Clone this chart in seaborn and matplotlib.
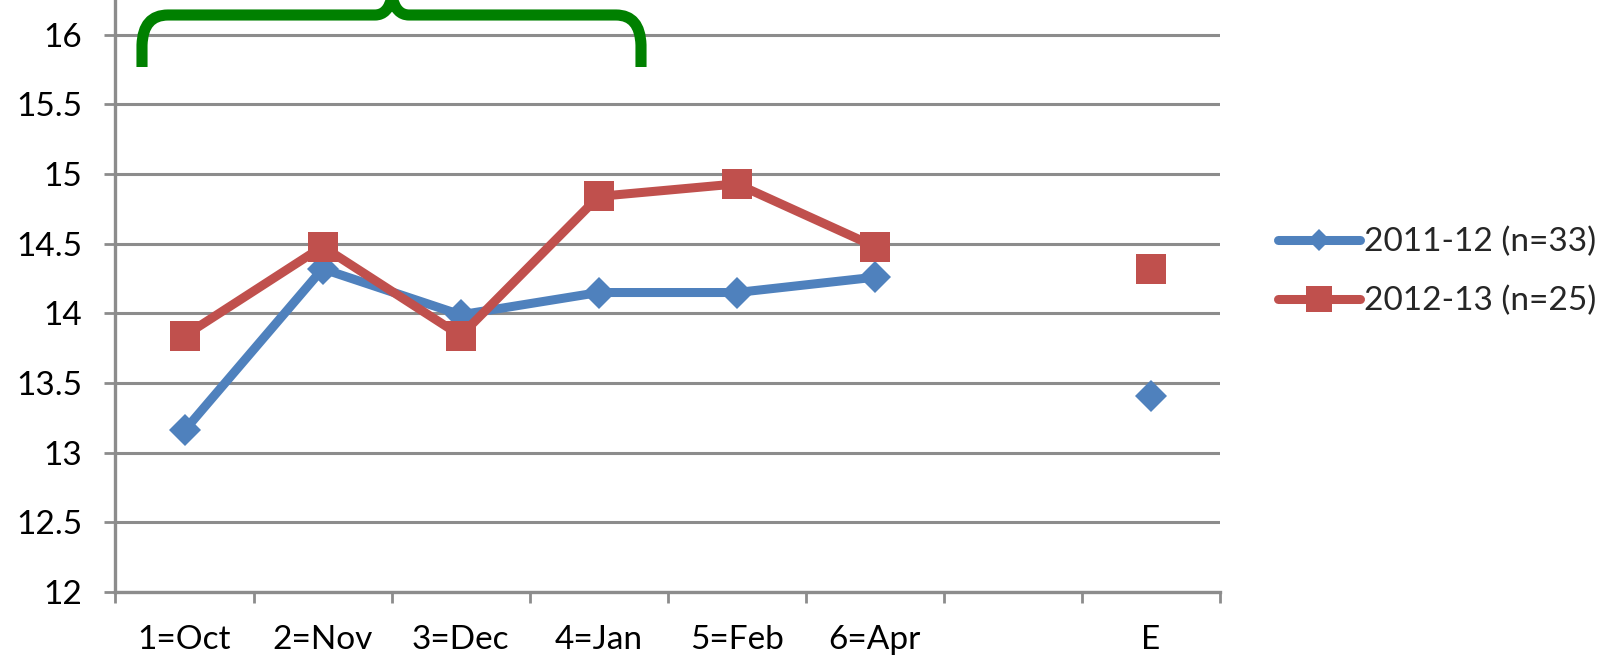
import matplotlib
matplotlib.use("Agg")
import matplotlib.pyplot as plt
import seaborn as sns
import pandas as pd
import numpy as np
from matplotlib.path import Path
from matplotlib.patches import PathPatch
from matplotlib.lines import Line2D
from matplotlib.transforms import Affine2D

# ---- data ----
categories = ["1=Oct", "2=Nov", "3=Dec", "4=Jan", "5=Feb", "6=Apr", "", "E"]
series_names = ["2011-12 (n=33)", "2012-13 (n=25)"]
values_2011 = [13.16, 14.32, 13.99, 14.15, 14.15, 14.26, np.nan, 13.41]
values_2012 = [13.84, 14.48, 13.84, 14.84, 14.93, 14.48, np.nan, 14.32]
ytick_values = [12, 12.5, 13, 13.5, 14, 14.5, 15, 15.5, 16]
ytick_labels = ["12", "12.5", "13", "13.5", "14", "14.5", "15", "15.5", "16"]

colors = {series_names[0]: "#4F81BD", series_names[1]: "#C0504D"}
markers = {series_names[0]: "D", series_names[1]: "s"}
msizes = {series_names[0]: 15.8, series_names[1]: 21.6}
leg_msizes = {series_names[0]: 11.7, series_names[1]: 18.5}

sns.set_theme(style="white")
plt.rcParams["font.family"] = ["Lato", "DejaVu Sans"]

W, H = 1606, 658
fig = plt.figure(figsize=(W / 100, H / 100), dpi=100)
ax = fig.add_axes([115.5 / W, 1 - 592 / H, (1220 - 115.5) / W, 592 / H])

df = pd.DataFrame({"pos": np.arange(len(categories)), "cat": categories,
                   series_names[0]: values_2011, series_names[1]: values_2012})
long = df.melt(id_vars=["pos", "cat"], var_name="series", value_name="value").dropna()

grid_col = "#8C8C8C"
for name in series_names:
    sub = long[long["series"] == name]
    months = sub[sub["cat"] != "E"]
    end = sub[sub["cat"] == "E"]
    for part in (months, end):
        sns.lineplot(data=part, x="pos", y="value", ax=ax, color=colors[name],
                     linewidth=6.5, marker=markers[name], markersize=msizes[name],
                     markeredgewidth=0, legend=False, zorder=3)

ax.set_xlim(-0.5, len(categories) - 0.5)
ax.set_ylim(12, 16.25)
ax.set_xlabel("")
ax.set_ylabel("")

ax.set_xticks(np.arange(len(categories)))
ax.set_xticklabels(categories, fontsize=24, color="black")
ax.set_xticks(np.arange(len(categories) + 1) - 0.5, minor=True)
ax.tick_params(axis="x", which="major", length=0, pad=24)
ax.tick_params(axis="x", which="minor", length=8, width=2, color=grid_col, direction="out", bottom=True)

ax.set_yticks(ytick_values)
ax.set_yticklabels(ytick_labels, fontsize=24, color="black")
ax.tick_params(axis="y", which="major", length=8, width=2, color=grid_col, direction="out", left=True, pad=16)

ax.yaxis.grid(True, color=grid_col, linewidth=2.2)
ax.xaxis.grid(False)
ax.set_axisbelow(True)
for s in ["top", "right"]:
    ax.spines[s].set_visible(False)
for s in ["left", "bottom"]:
    ax.spines[s].set_color(grid_col)
    ax.spines[s].set_linewidth(2.4)

# legend
handles = [Line2D([], [], color=colors[n], linewidth=6.5, marker=markers[n],
                  markersize=leg_msizes[n], markeredgewidth=0, solid_capstyle="round")
           for n in series_names]
fig.legend(handles, series_names, loc="center left",
           bbox_to_anchor=(1278 / W, 1 - 271.7 / H), frameon=False, fontsize=24,
           handlelength=2.45, handletextpad=0.12, borderpad=0, borderaxespad=0,
           labelspacing=0.85)

# green brace annotation (pixel coords, y downward)
verts = [(142, 67), (142, 45), (143, 15), (168, 15), (375, 15), (388, 15), (392, -3),
         (396, 15), (409, 15), (616, 15), (640, 15), (641, 45), (641, 67)]
codes = [Path.MOVETO, Path.LINETO, Path.CURVE3, Path.CURVE3, Path.LINETO, Path.CURVE3, Path.CURVE3,
         Path.CURVE3, Path.CURVE3, Path.LINETO, Path.CURVE3, Path.CURVE3, Path.LINETO]
tr = Affine2D().scale(1 / W, -1 / H).translate(0, 1) + fig.transFigure
brace = PathPatch(Path(verts, codes), facecolor="none", edgecolor="#008000", linewidth=8,
                  capstyle="butt", joinstyle="round", transform=tr, clip_on=False, zorder=5)
fig.add_artist(brace)

fig.savefig("out.png", dpi=100)
